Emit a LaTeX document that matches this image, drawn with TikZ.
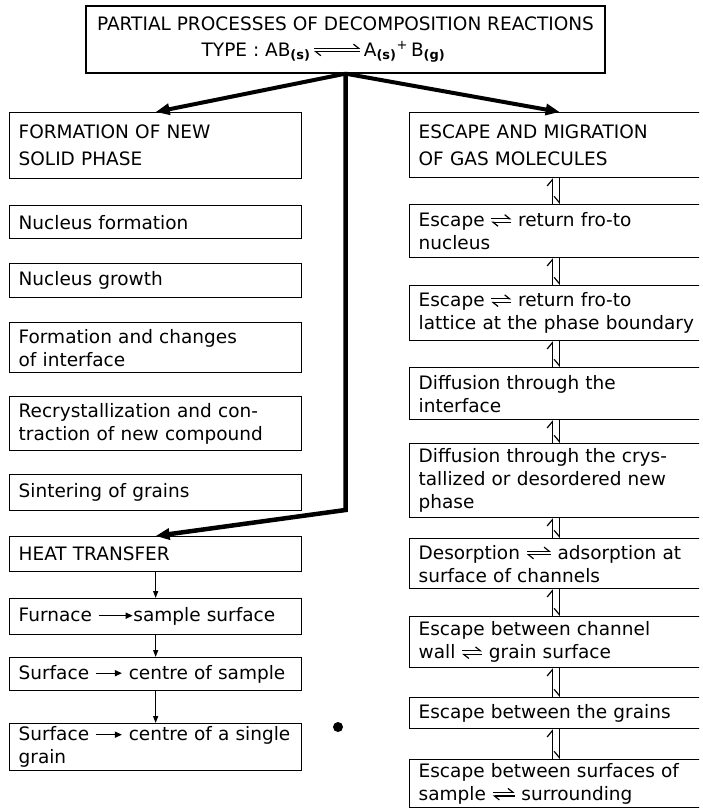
\documentclass[tikz,border=0pt]{standalone}
\usepackage{fontspec}
\setmainfont{DejaVu Sans}
\usetikzlibrary{arrows.meta}
\tikzset{
	lbox/.style={draw, line width=1.3pt, anchor=north west, inner xsep=9pt, inner ysep=1pt,
		text width=274pt, align=left, minimum height=#1, font=\fontsize{18.5}{23}\selectfont},
	rbox/.style={lbox=#1, text width=282pt},
	bigarrow/.style={line width=4pt, line join=miter, -{Triangle[length=14pt,width=11pt]}},
	thinarrow/.style={line width=1.2pt, -{Triangle[length=7pt,width=5pt]}},
	harpup/.style={line width=1.2pt, -{Straight Barb[left,length=6pt,width=10pt]}},
	harpdown/.style={line width=1.2pt, -{Straight Barb[right,length=6pt,width=10pt]}}
}
\newcommand{\rarr}[1]{\tikz[baseline=-0.6ex]\draw[line width=1.3pt,-{Triangle[length=7pt,width=6pt]}] (0pt,0pt) -- (#1,0pt);}
\newcommand{\eqarr}[1]{\tikz[baseline=-0.6ex]{
	\draw[line width=1.2pt,-{Straight Barb[left,length=5pt,width=8pt]}] (0pt,1.8pt) -- (#1,1.8pt);
	\draw[line width=1.2pt,-{Straight Barb[left,length=5pt,width=8pt]}] (#1,-1.8pt) -- (0pt,-1.8pt);}}

\begin{document}
\begin{tikzpicture}[x=1pt,y=-1pt]
\useasboundingbox (0,0) rectangle (702,810);
\clip (0,0) rectangle (699,810);

%title
\node[draw, line width=1.3pt, minimum width=519pt, minimum height=67pt, align=center,
	font=\fontsize{18.5}{26}\selectfont] (title) at (345.5,39.5)
	{PARTIAL PROCESSES OF DECOMPOSITION REACTIONS\\
	TYPE : AB\textsubscript{\textbf{(s)}}\,\eqarr{46pt}\,A\textsubscript{\textbf{(s)}}\textsuperscript{+}\,B\textsubscript{\textbf{(g)}}\hspace*{44pt}};

% solid phase
\node[lbox=66pt] (solid) at (9,112) {FORMATION OF NEW\\[4pt]SOLID PHASE};
\node[lbox=33pt] (nform) at (9,205) {Nucleus formation};
\node[lbox=34pt] (ngrow) at (9,263) {Nucleus growth};
\node[lbox=50pt] (iface) at (9,322) {Formation and changes\\of interface};
\node[lbox=54pt] (recry) at (9,396) {Recrystallization and con-\\traction of new compound};
\node[lbox=36pt] (sinter) at (9,474) {Sintering of grains};

% heat transfer
\node[lbox=35pt] (heat) at (9,536) {HEAT TRANSFER};
\node[lbox=36pt] (furn) at (9,598) {Furnace \rarr{34pt}sample surface};
\node[lbox=33pt] (surfs) at (9,657) {Surface \rarr{26pt} centre of sample};
\node[lbox=47pt] (surfg) at (9,723) {Surface \rarr{26pt} centre of a single\\grain};
\foreach \a/\b in {heat/furn,furn/surfs,surfs/surfg}
	\draw[thinarrow] (\a) -- (\b);

% gas molecules
\node[rbox=65pt] (gas) at (409,112) {ESCAPE AND MIGRATION\\[4pt]OF GAS MOLECULES};
\node[rbox=53pt] (esc1) at (409,204) {Escape \eqarr{20pt} return fro-to\\nucleus};
\node[rbox=55pt] (esc2) at (409,285) {Escape \eqarr{20pt} return fro-to\\lattice at the phase boundary};
\node[rbox=52pt] (diff1) at (409,367) {Diffusion through the\\interface};
\node[rbox=74pt] (diff2) at (409,443) {Diffusion through the crys-\\tallized or desordered new\\phase};
\node[rbox=50pt] (desorp) at (409,538) {Desorption \eqarr{24pt} adsorption at\\surface of channels};
\node[rbox=51pt] (chan) at (409,616) {Escape between channel\\wall \eqarr{20pt} grain surface};
\node[rbox=31pt] (grains) at (409,697) {Escape between the grains};
\node[rbox=48pt] (surr) at (409,759) {Escape between surfaces of\\sample \eqarr{22pt} surrounding};
\foreach \a/\b in {gas/esc1,esc1/esc2,esc2/diff1,diff1/diff2,diff2/desorp,desorp/chan,chan/grains,grains/surr}
{
	\draw[harpup] ([xshift=-7.5pt]\b.north) -- ([xshift=-7.5pt]\a.south);
	\draw[harpdown] ([xshift=-0.5pt]\a.south) -- ([xshift=-0.5pt]\b.north);
}

% main arrows
\coordinate (bend) at (345.5,510);
\draw[bigarrow] (title.south) -- (solid.north);
\draw[bigarrow] (title.south) -- (gas.north);
\draw[bigarrow, line width=4.5pt] (title.south) -- (bend) -- (heat.north);

\fill (338,727) circle (5pt);
\end{tikzpicture}
\end{document}
